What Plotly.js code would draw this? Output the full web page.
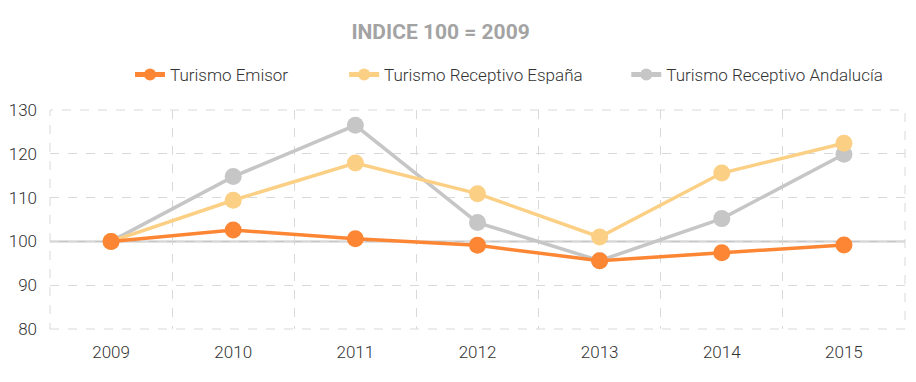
<!DOCTYPE html>
<html><head><meta charset="utf-8">
<script src="https://cdn.plot.ly/plotly-3.0.1.min.js"></script>
<style>body{margin:0;background:#fff}#c{width:916px;height:382px}</style>
</head><body><div id="c"></div>
<script>
const years = ['2009','2010','2011','2012','2013','2014','2015'];
const emisor = [100, 102.6, 100.6, 99.1, 95.6, 97.4, 99.2];
const receptivoEspana = [100, 109.4, 117.9, 110.9, 101.0, 115.6, 122.4];
const receptivoAndalucia = [100, 114.8, 126.5, 104.3, 95.6, 105.2, 119.9];
const seriesNames = ['Turismo Emisor', 'Turismo Receptivo España', 'Turismo Receptivo Andalucía'];
const titleText = 'INDICE 100 = 2009';
const yTicks = [80, 90, 100, 110, 120, 130];

const colors = ['#fd8634', '#fbd085', '#c6c6c6'];
const legendIds = ['legend', 'legend2', 'legend3'];
const seriesValues = [emisor, receptivoEspana, receptivoAndalucia];
// draw order: Andalucía first (bottom), Emisor on top
const data = [2, 1, 0].map(idx => ({
  x: years, y: seriesValues[idx], type: 'scatter', mode: 'lines+markers', name: seriesNames[idx],
  line: {color: colors[idx], width: 3.5},
  marker: {color: colors[idx], size: 17},
  legend: legendIds[idx]
}));

const font = 'Roboto, "Open Sans", sans-serif';
const legFont = {family: font, size: 17, color: '#333', weight: 300};
const legBase = {orientation: 'h', xanchor: 'left', y: 0.16, yanchor: 'middle', font: legFont,
                 itemsizing: 'constant', bgcolor: 'rgba(0,0,0,0)'};
const layout = {
  width: 916, height: 382,
  margin: {l: 50, r: 11, t: 110, b: 53},
  paper_bgcolor: '#fff', plot_bgcolor: '#fff',
  title: {text: '<b>' + titleText + '</b>', x: 0.481, xanchor: 'center', y: 0.918, yanchor: 'middle',
          font: {family: font, size: 21, color: '#a3a3a3'}},
  showlegend: true,
  legend: Object.assign({}, legBase, {x: 0.0936, y: 1.16}),
  legend2: Object.assign({}, legBase, {x: 0.344, y: 1.16}),
  legend3: Object.assign({}, legBase, {x: 0.674, y: 1.16}),
  xaxis: {type: 'category', range: [-0.5, 6.5], tickson: 'boundaries', ticks: '',
          showgrid: true, gridcolor: '#d9d9d9', griddash: 'dash', gridwidth: 1,
          showline: false, zeroline: false, fixedrange: true,
          tickfont: {family: font, size: 17, color: '#333', weight: 300}, ticklabelstandoff: 11},
  yaxis: {range: [80, 130], tickvals: yTicks, ticktext: yTicks.map(String), ticks: '',
          showgrid: true, gridcolor: '#d9d9d9', griddash: 'dash', gridwidth: 1,
          zeroline: false, showline: false,
          tickfont: {family: font, size: 17, color: '#333', weight: 300}, ticklabelstandoff: 12},
  shapes: [
    {type: 'rect', xref: 'paper', yref: 'paper', x0: 0, x1: 1, y0: 0, y1: 1,
     line: {color: '#d9d9d9', width: 1, dash: 'dash'}, layer: 'below'},
    {type: 'line', xref: 'paper', x0: 0, x1: 1, yref: 'y', y0: 100, y1: 100,
     line: {color: '#c6c6c6', width: 2}, layer: 'below'}
  ]
};
Plotly.newPlot('c', data, layout, {displayModeBar: false, staticPlot: true});
</script></body></html>
